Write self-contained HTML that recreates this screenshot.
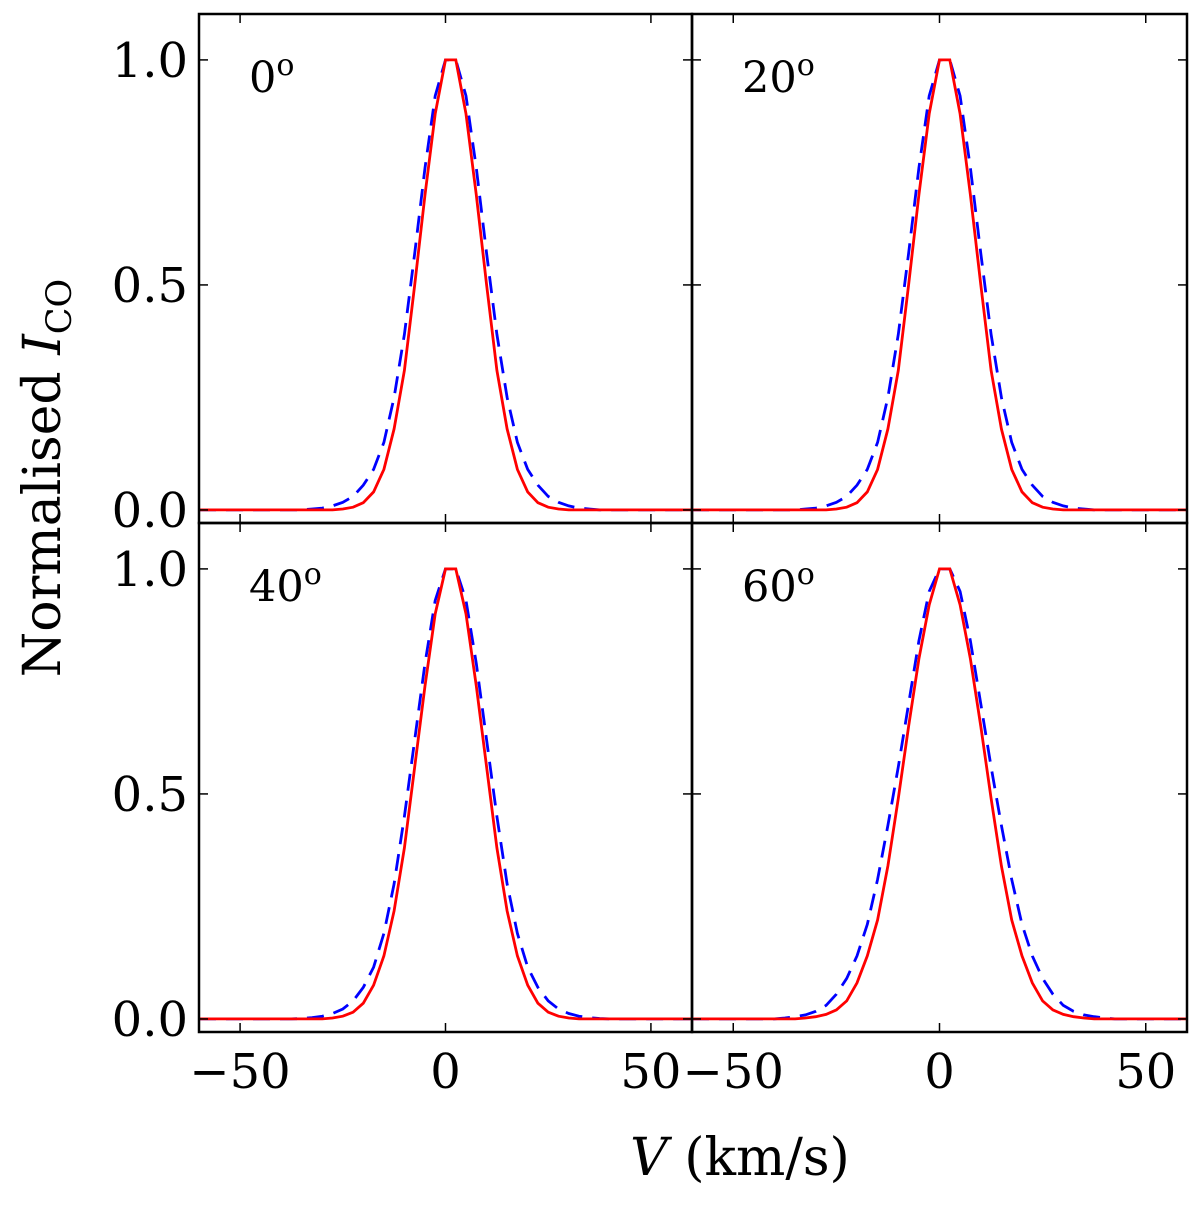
<!DOCTYPE html>
<html><head><meta charset="utf-8"><style>
html,body{margin:0;padding:0;background:#fff;}
svg text{font-family:"DejaVu Serif","Liberation Serif",serif;fill:#000;}
</style></head><body>
<svg id="chart" width="1200" height="1208" viewBox="0 0 1200 1208" xmlns="http://www.w3.org/2000/svg">
<g id="layer"></g>
<text transform="translate(60,478) rotate(-90)" text-anchor="middle" font-size="52">Normalised <tspan font-style="italic">I</tspan><tspan font-size="35" dy="11">CO</tspan></text>
<text x="740" y="1175" text-anchor="middle" font-size="52"><tspan font-style="italic">V</tspan> (km/s)</text>
</svg>
<script>
const velocities = [];
for (let i = 0; i < 49; i++) velocities.push(-60 + 2.5 * i);
const xTicks = [-50, 0, 50];
const xTickLabels = ["\u221250", "0", "50"];
const yTicks = [0, 0.5, 1.0];
const yTickLabels = ["0.0", "0.5", "1.0"];
const panelLabels = ["0", "20", "40", "60"];
const red0 = [0,0,0,0,0,0,0,0,0,0,0,0,0,0,0.002,0.006,0.016,0.04,0.09,0.18,0.31,0.50,0.70,0.88,1.0,1.0,0.88,0.70,0.50,0.31,0.18,0.09,0.04,0.016,0.006,0.002,0,0,0,0,0,0,0,0,0,0,0,0,0];
const blue0 = [0,0,0,0,0,0,0,0,0,0,0,0.002,0.004,0.009,0.017,0.03,0.055,0.09,0.15,0.25,0.39,0.57,0.76,0.92,1.0,1.0,0.92,0.76,0.57,0.39,0.25,0.15,0.09,0.055,0.03,0.017,0.009,0.004,0.002,0,0,0,0,0,0,0,0,0,0];
const red20 = [0,0,0,0,0,0,0,0,0,0,0,0,0,0,0.002,0.006,0.016,0.04,0.09,0.18,0.31,0.50,0.70,0.88,1.0,1.0,0.88,0.70,0.50,0.31,0.18,0.09,0.04,0.016,0.006,0.002,0,0,0,0,0,0,0,0,0,0,0,0,0];
const blue20 = [0,0,0,0,0,0,0,0,0,0,0,0.002,0.004,0.009,0.017,0.03,0.055,0.09,0.15,0.25,0.39,0.57,0.76,0.92,1.0,1.0,0.92,0.76,0.57,0.39,0.25,0.15,0.09,0.055,0.03,0.017,0.009,0.004,0.002,0,0,0,0,0,0,0,0,0,0];
const red40 = [0,0,0,0,0,0,0,0,0,0,0,0,0,0.002,0.006,0.015,0.035,0.075,0.14,0.24,0.38,0.56,0.74,0.90,1.0,1.0,0.90,0.74,0.56,0.38,0.24,0.14,0.075,0.035,0.015,0.006,0.002,0,0,0,0,0,0,0,0,0,0,0,0];
const blue40 = [0,0,0,0,0,0,0,0,0,0,0.001,0.003,0.006,0.012,0.022,0.04,0.07,0.115,0.19,0.30,0.45,0.62,0.79,0.93,1.0,1.0,0.93,0.79,0.62,0.45,0.30,0.19,0.115,0.07,0.04,0.022,0.012,0.006,0.003,0.001,0,0,0,0,0,0,0,0,0];
const red60 = [0,0,0,0,0,0,0,0,0,0,0,0.002,0.005,0.01,0.02,0.04,0.08,0.14,0.22,0.34,0.49,0.65,0.80,0.92,1.0,1.0,0.92,0.80,0.65,0.49,0.34,0.22,0.14,0.08,0.04,0.02,0.01,0.005,0.002,0,0,0,0,0,0,0,0,0,0];
const blue60 = [0,0,0,0,0,0,0,0,0,0.002,0.005,0.009,0.017,0.03,0.055,0.09,0.14,0.21,0.31,0.43,0.56,0.70,0.84,0.95,1.0,1.0,0.95,0.84,0.70,0.56,0.43,0.31,0.21,0.14,0.09,0.055,0.03,0.017,0.009,0.005,0.002,0,0,0,0,0,0,0,0,0];
const redSeries = [red0, red20, red40, red60];
const blueSeries = [blue0, blue20, blue40, blue60];

const NS = "http://www.w3.org/2000/svg";
const layer = document.getElementById("layer");
const panels = [
  {x0:199, x1:692, y0:14, y1:523},
  {x0:692, x1:1187, y0:14, y1:523},
  {x0:199, x1:692, y0:523, y1:1032},
  {x0:692, x1:1187, y0:523, y1:1032}
];
const xMin=-60, xMax=60, yMin=-0.029, yMax=1.102;
function mk(tag, attrs){ const e=document.createElementNS(NS,tag); for(const k in attrs) e.setAttribute(k,attrs[k]); return e; }

panels.forEach((p,pi)=>{
  const sx = v => p.x0 + (v - xMin) / (xMax - xMin) * (p.x1 - p.x0);
  const sy = v => p.y1 - (v - yMin) / (yMax - yMin) * (p.y1 - p.y0);
  const g = mk("g",{});
  
  
  layer.appendChild(g);
  const pts = arr => arr.map((v,i)=>sx(velocities[i]).toFixed(1)+","+sy(v).toFixed(1)).join(" ");
  const blue = mk("polyline",{points:pts(blueSeries[pi]),fill:"none",stroke:"#0000ff","stroke-width":"2.8","stroke-dasharray":"17,10"});
  
  
  g.appendChild(blue);
  const red = mk("polyline",{points:pts(redSeries[pi]),fill:"none",stroke:"#ff0000","stroke-width":"2.8"});
  
  
  g.appendChild(red);
  xTicks.forEach((t,ti)=>{
    const x=sx(t);
    g.appendChild(mk("line",{x1:x,x2:x,y1:p.y1,y2:p.y1-9,stroke:"#000","stroke-width":"1.5"}));
    g.appendChild(mk("line",{x1:x,x2:x,y1:p.y0,y2:p.y0+9,stroke:"#000","stroke-width":"1.5"}));
    if(pi>=2){
      const tl = mk("text",{x:x,y:1088,"text-anchor":"middle","font-size":"48"});
      tl.textContent = xTickLabels[ti];
      
      
      g.appendChild(tl);
    }
  });
  yTicks.forEach((t,ti)=>{
    const y=sy(t);
    g.appendChild(mk("line",{x1:p.x0,x2:p.x0+9,y1:y,y2:y,stroke:"#000","stroke-width":"1.5"}));
    g.appendChild(mk("line",{x1:p.x1,x2:p.x1-9,y1:y,y2:y,stroke:"#000","stroke-width":"1.5"}));
    if(pi%2===0){
      const tl = mk("text",{x:188,y:y+17,"text-anchor":"end","font-size":"48"});
      tl.textContent = yTickLabels[ti];
      
      
      g.appendChild(tl);
    }
  });
  const frame = mk("rect",{x:p.x0,y:p.y0,width:p.x1-p.x0,height:p.y1-p.y0,fill:"none",stroke:"#000","stroke-width":"2.5"});
  
  
  g.appendChild(frame);
  const lab = mk("text",{x:p.x0+50,y:p.y0+78,"font-size":"43"});
  lab.innerHTML = panelLabels[pi] + '<tspan font-size="30" dy="-17">o</tspan>';
  
  
  g.appendChild(lab);
});
</script>
</body></html>
